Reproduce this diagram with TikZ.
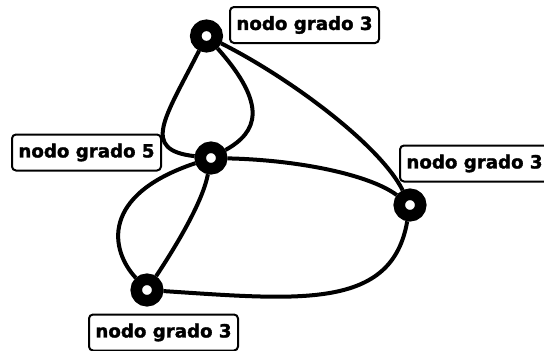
\documentclass[tikz,border=0pt]{standalone}
\usepackage{fontspec}
\setmainfont{DejaVu Sans}
\newfontfamily\lblfont{DejaVu Sans Bold}[FakeBold=1.6]
\begin{document}
\begin{tikzpicture}[x=1pt,y=-1pt,
  ring/.style={circle,draw=black,fill=white,line width=11.5pt,minimum size=21.5pt,inner sep=0pt},
  lbl/.style={draw=black,line width=2pt,rounded corners=4pt,fill=white,minimum width=149pt,minimum height=36pt,inner sep=0pt,font=\lblfont\fontsize{18.2}{20}\selectfont},
  edge/.style={line width=4pt,draw=black}]
\clip (0,0) rectangle (544,351);
\node[ring] (nT) at (206.5,36) {};
\node[ring] (nM) at (211,158) {};
\node[ring] (nR) at (410,205) {};
\node[ring] (nB) at (147,290) {};
\node[lbl] (lT) at (304.5,25) {nodo grado 3};
\node[lbl] (lM) at (86.5,152.5) {nodo grado 5};
\node[lbl] (lR) at (474.5,163.5) {nodo grado 3};
\node[lbl] (lB) at (163.5,332.5) {nodo grado 3};
\draw[edge] (nT) .. controls (165,118) and (140,150) .. (nM);
\draw[edge] (nT) .. controls (268,105) and (258,132) .. (nM);
\draw[edge] (nT) .. controls (290,78) and (380,145) .. (nR);
\draw[edge] (nM) .. controls (300,160) and (370,175) .. (nR);
\draw[edge] (nR) .. controls (392,310) and (300,300) .. (nB);
\draw[edge] (nM) .. controls (203,200) and (180,240) .. (nB);
\draw[edge] (nM) .. controls (100,195) and (110,250) .. (nB);
\end{tikzpicture}
\end{document}
